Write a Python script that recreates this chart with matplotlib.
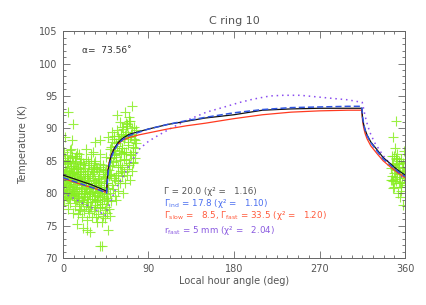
import numpy as np
import matplotlib
matplotlib.use('Agg')
import matplotlib.pyplot as plt
from matplotlib.ticker import MultipleLocator

# observed brightness temperatures (local hour angle in deg, T in K)
lha_obs = [
    0.5, 1.2, 2.0, 0.8, 3.1, 1.7, 4.2, 2.6, 3.6, 0.3, 4.8, 2.2, 1.0, 2.0, 4.4, 3.3, 0.6, 3.9, 1.5, 4.6,
    5.3, 7.1, 6.0, 8.4, 9.2, 5.8, 7.7, 9.6, 6.5, 8.0, 5.5, 9.0, 7.3, 5.6, 10.8, 9.0, 6.8, 8.8, 9.9, 6.2,
    10.4, 12.2, 14.1, 11.3, 13.4, 10.9, 12.8, 14.6, 11.7, 13.9, 10.2, 12.5, 14.3, 14.4, 11.0, 13.1, 12.0, 14.8,
    15.5, 17.3, 19.2, 16.0, 18.5, 15.2, 19.7, 16.9, 18.0, 15.8, 17.6, 19.0, 16.4, 17.5, 18.8, 15.9, 19.4,
    20.5, 22.1, 24.0, 21.3, 23.4, 20.2, 24.7, 21.8, 23.0, 20.8, 22.6, 24.3, 21.4, 23.8, 22.0, 24.9,
    25.6, 27.3, 29.1, 26.2, 28.4, 25.1, 29.6, 26.8, 28.0, 25.9, 27.6, 25.0, 28.0, 30.0, 29.0, 27.0, 26.0,
    30.5, 32.2, 34.1, 31.0, 33.3, 30.8, 34.6, 31.7, 33.0, 32.5, 34.0, 31.4, 33.7, 35.0, 32.8, 34.3,
    35.8, 37.2, 39.0, 36.3, 38.5, 35.4, 39.6, 36.9, 38.1, 37.6, 39.2, 39.0, 39.0, 39.3, 36.0, 38.8,
    40.7, 42.3, 44.1, 41.2, 43.5, 45.4, 40.3, 46.2, 42.8, 44.6, 41.8, 45.0, 47.7, 47.7, 40.7, 46.5, 43.0, 45.9,
    48.2, 50.1, 49.0, 51.5, 53.2, 48.8, 52.4, 54.0, 50.7, 53.7, 52.0, 54.6, 49.5, 51.0, 50.0,
    56.0, 58.2, 60.1, 55.6, 57.4, 59.6, 61.2, 56.8, 58.9, 60.6, 61.8, 60.0, 56.5, 61.5, 55.2, 57.9,
    63.0, 65.2, 67.1, 62.6, 64.4, 66.6, 68.2, 63.8, 65.9, 67.6, 69.2, 65.0, 69.5, 62.2, 68.8, 64.0,
    70.2, 72.5, 74.0, 71.0, 73.3, 75.5, 71.8, 74.6, 70.5, 72.3, 76.0, 77.0, 76.8,
    352.5, 347.5, 355.0, 349.0, 357.5, 351.0, 346.5, 354.0, 348.5, 358.5, 359.5, 345.8, 356.5, 350.0,
    353.5, 354.7, 358.0, 351.0, 347.7, 349.5, 347.0, 359.0, 352.0, 356.0, 344.8,
    # denser core
    0.2, 1.4, 2.4, 3.4, 4.4, 5.4, 6.4, 7.4, 8.4, 9.4, 0.9, 1.9, 2.9, 3.9, 4.9, 5.9, 6.9, 7.9, 8.9, 9.9,
    10.6, 11.6, 12.6, 13.6, 14.6, 15.6, 16.6, 17.6, 18.6, 19.6, 11.1, 12.1, 13.1, 14.1, 15.1, 16.1, 17.1, 18.1, 19.1,
    20.3, 21.3, 22.3, 23.3, 24.3, 25.3, 26.3, 27.3, 28.3, 29.3, 20.8, 21.8, 22.8, 23.8, 24.8, 25.8, 26.8, 27.8, 28.8,
    30.2, 31.2, 32.2, 33.2, 34.2, 35.2, 36.2, 37.2, 38.2, 39.2, 30.7, 31.7, 32.7, 33.7, 34.7, 35.7, 36.7, 37.7, 38.7,
    40.2, 41.2, 42.2, 43.2, 44.2, 45.2, 46.2, 40.8, 41.8, 42.8, 43.8, 44.8, 45.8,
    47.3, 48.3, 49.3, 50.3, 51.3, 52.3, 53.3, 54.3, 55.3, 56.3, 57.3, 58.3, 59.3, 47.8, 49.8, 51.8, 53.8, 55.8, 57.8, 59.8,
    60.4, 61.4, 62.4, 63.4, 64.4, 65.4, 66.4, 67.4, 68.4, 69.4, 70.4, 71.4, 72.4, 73.4, 74.4, 75.4,
    61.9, 63.9, 65.9, 67.9, 69.9, 71.9, 73.9,
    345.5, 346.5, 347.5, 348.5, 349.5, 350.5, 351.5, 352.5, 353.5, 354.5, 355.5, 356.5, 357.5, 358.5, 359.5,
    346.0, 348.0, 350.0, 352.0, 354.0, 356.0, 358.0, 360.0,
]
t_obs = [
    78.2, 79.0, 79.8, 80.5, 81.0, 81.6, 82.2, 82.9, 83.4, 84.1, 84.8, 85.5, 86.3, 88.7, 80.2, 81.3, 83.0, 79.4, 82.6, 84.5,
    77.6, 78.5, 79.3, 80.1, 80.7, 81.4, 82.0, 82.8, 83.5, 84.2, 85.0, 85.8, 86.6, 92.5, 90.7, 88.2, 81.1, 83.9, 79.8, 82.4,
    77.0, 78.0, 78.9, 79.7, 80.4, 81.0, 81.7, 82.3, 83.1, 83.8, 84.6, 85.4, 86.2, 75.3, 80.0, 82.7, 79.2, 84.0,
    76.8, 77.6, 78.4, 79.3, 80.0, 80.8, 81.5, 82.2, 82.9, 83.7, 84.5, 85.3, 86.0, 77.4, 81.2, 79.6, 83.2,
    76.3, 77.2, 78.1, 79.0, 79.8, 80.6, 81.3, 82.0, 82.7, 83.5, 84.3, 85.2, 74.6, 86.8, 80.1, 78.6,
    75.8, 76.9, 77.8, 78.7, 79.5, 80.3, 81.1, 81.9, 82.6, 83.4, 84.3, 74.3, 74.0, 86.1, 85.0, 79.9, 81.6,
    76.4, 77.3, 78.2, 79.1, 80.0, 80.8, 81.6, 82.4, 83.2, 84.1, 85.0, 86.4, 87.9, 76.4, 79.6, 81.2,
    75.5, 76.8, 77.7, 78.6, 79.4, 80.2, 81.0, 81.8, 82.6, 83.5, 84.5, 86.1, 88.2, 71.8, 79.0, 80.6,
    75.6, 76.5, 77.4, 78.3, 79.1, 79.9, 80.7, 81.5, 82.3, 83.3, 84.4, 85.6, 88.7, 74.3, 71.8, 77.0, 80.3, 78.8,
    77.5, 78.8, 80.0, 81.2, 82.4, 83.6, 84.8, 86.0, 87.2, 88.4, 89.4, 79.5, 83.0, 85.5, 76.5,
    79.0, 80.3, 81.6, 82.8, 84.0, 85.1, 86.2, 87.3, 88.3, 89.2, 90.2, 91.0, 92.0, 83.4, 86.7, 88.8,
    80.0, 81.5, 82.8, 84.0, 85.2, 86.3, 87.4, 88.4, 89.4, 90.4, 91.2, 92.5, 84.6, 87.0, 89.0, 86.0,
    82.0, 83.5, 84.8, 86.0, 87.2, 88.2, 89.2, 90.2, 91.2, 93.5, 85.4, 87.8, 89.8,
    80.0, 80.8, 81.5, 82.2, 82.9, 83.6, 84.3, 85.0, 85.7, 86.5, 81.2, 82.6, 84.0, 85.3,
    83.0, 79.4, 78.2, 91.2, 88.7, 86.9, 81.9, 83.3, 84.7, 80.4, 82.0,
    # denser core
    83.8, 80.9, 85.1, 79.6, 82.5, 84.7, 80.3, 83.3, 81.8, 85.6, 81.9, 83.6, 80.7, 85.9, 79.1, 82.9, 84.9, 81.0, 86.8, 83.1,
    83.3, 80.6, 85.0, 81.4, 79.0, 83.9, 80.4, 84.8, 81.7, 78.9, 82.2, 84.2, 79.9, 85.7, 81.9, 83.0, 78.8, 82.5, 80.9,
    81.7, 84.6, 79.4, 82.9, 80.8, 83.0, 77.6, 82.1, 80.2, 83.7, 78.7, 80.1, 83.9, 81.1, 82.3, 79.1, 84.9, 80.6, 77.9,
    82.9, 80.3, 84.6, 78.8, 82.0, 80.9, 83.8, 79.7, 81.3, 77.9, 79.1, 83.7, 81.5, 77.8, 83.9, 78.9, 82.2, 80.1, 84.0,
    81.9, 79.6, 83.6, 80.9, 82.5, 77.8, 79.3, 78.4, 82.9, 80.0, 76.2, 81.6, 83.8,
    80.8, 82.6, 84.2, 82.8, 87.9, 80.7, 85.9, 82.1, 87.7, 84.9, 89.8, 81.9, 86.5, 79.0, 86.8, 84.3, 88.8, 85.6, 83.1, 88.1,
    84.4, 88.8, 86.9, 89.9, 83.2, 88.9, 85.1, 90.6, 87.9, 84.3, 88.6, 85.9, 90.0, 86.4, 88.4, 87.0,
    82.6, 86.4, 90.9, 83.8, 91.7, 88.8, 84.6,
    83.9, 82.0, 84.5, 81.0, 83.7, 85.5, 82.5, 84.1, 81.6, 83.0, 85.2, 81.8, 83.9, 82.3, 84.8,
    85.8, 83.1, 81.9, 86.0, 84.5, 80.9, 84.6, 83.5,
]

# model curves
lha_mod = [0, 10, 20, 30, 40, 46, 46.6, 47.5, 49, 51, 54, 58, 63, 70, 80, 90, 110, 130, 150,
           180, 210, 240, 270, 300, 314.5, 315.3, 316.5, 318, 320, 324, 330, 337, 345, 352, 360]
t_gamma = [82.8, 82.3, 81.8, 81.3, 80.7, 80.3, 82.0, 83.5, 84.8, 85.9, 86.9, 87.8, 88.5, 89.1, 89.5,
           89.9, 90.6, 91.1, 91.6, 92.1, 92.8, 93.0, 93.1, 93.1, 93.1, 91.6, 90.6, 89.8, 89.0, 87.9,
           86.8, 85.5, 84.5, 83.6, 82.8]
t_ind = [82.4, 81.9, 81.4, 80.9, 80.4, 80.0, 81.5, 83.1, 84.4, 85.6, 86.6, 87.6, 88.3, 88.9, 89.4,
         89.9, 90.6, 91.2, 91.7, 92.4, 92.9, 93.2, 93.3, 93.4, 93.4, 91.8, 90.7, 89.7, 88.9, 87.8,
         86.6, 85.3, 84.3, 83.4, 82.6]
t_slowfast = [82.3, 81.8, 81.3, 80.9, 80.4, 80.1, 82.2, 83.8, 85.0, 86.0, 86.9, 87.6, 88.2, 88.6, 89.0,
              89.3, 89.9, 90.4, 90.8, 91.5, 92.1, 92.5, 92.7, 92.8, 92.8, 91.2, 90.1, 89.2, 88.4, 87.3,
              86.2, 85.0, 84.0, 83.2, 82.4]
lha_rfast = [0, 10, 20, 30, 39, 44, 47, 51, 55, 60, 65, 72, 81, 90, 100, 116, 133, 151, 170, 186,
             200, 218, 232, 250, 278, 300, 315, 316.5, 318, 320, 323, 328, 337, 345, 352, 360]
t_rfast = [80.1, 79.3, 78.5, 77.8, 77.1, 76.5, 77.6, 79.0, 80.5, 81.8, 83.0, 84.9, 86.9, 88.0, 88.9,
           90.2, 91.4, 92.5, 93.3, 94.0, 94.5, 95.0, 95.1, 95.1, 94.7, 94.4, 94.0, 93.0, 91.9, 90.8,
           89.4, 87.8, 85.8, 84.4, 83.2, 82.0]

labels = [
    'Γ = 20.0 (χ² =   1.16)',
    r'Γ$_{\rm ind}$ = 17.8 (χ² =   1.10)',
    r'Γ$_{\rm slow}$ =   8.5, Γ$_{\rm fast}$ = 33.5 (χ² =   1.20)',
    r'r$_{\rm fast}$ = 5 mm (χ² =   2.04)',
]
label_colors = ['#555555', '#4a6ef0', '#ff5a3c', '#8a5ae0']

grey = '#666666'
plt.rcParams['mathtext.fontset'] = 'dejavusans'
plt.rcParams['font.size'] = 7

fig = plt.figure(figsize=(4.27, 3.05), dpi=100)
ax = fig.add_axes([0.1475, 0.154, 0.801, 0.744])

ax.plot(lha_obs, t_obs, '+', color='#88ee22', ms=6.5, mew=0.8, alpha=0.85, zorder=1)

ax.plot(lha_rfast, t_rfast, color='#8a4ef0', lw=1.1, ls=(0, (1, 2.5)), zorder=2)
ax.plot(lha_mod, t_slowfast, color='#ff3a20', lw=0.9, zorder=3)
ax.plot(lha_mod, t_gamma, color='#111111', lw=0.9, zorder=4)
ax.plot(lha_mod, t_ind, color='#2f55e0', lw=1.1, dashes=(4, 2), zorder=5)

ax.set_xlim(0, 360)
ax.set_ylim(70, 105)
ax.xaxis.set_major_locator(MultipleLocator(90))
ax.xaxis.set_minor_locator(MultipleLocator(11.25))
ax.yaxis.set_major_locator(MultipleLocator(5))
ax.yaxis.set_minor_locator(MultipleLocator(1))
ax.tick_params(which='both', direction='in', top=True, right=True, color=grey,
               labelcolor='#555555', width=0.6)
ax.tick_params(which='major', length=5, labelsize=7, pad=4)
ax.tick_params(which='minor', length=2.5)
for s in ax.spines.values():
    s.set_color(grey)
    s.set_linewidth(0.7)

ax.set_title('C ring 10', color='#555555', fontsize=8, pad=5)
ax.set_xlabel('Local hour angle (deg)', color='#555555', fontsize=7, labelpad=2)
ax.set_ylabel('Temperature (K)', color='#555555', fontsize=7, labelpad=8)

ax.text(0.055, 0.915, 'α=  73.56˚', transform=ax.transAxes,
        color='#333333', fontsize=6.5, va='center')

ypos = [0.293, 0.241, 0.186, 0.123]
for lab, col, yy in zip(labels, label_colors, ypos):
    ax.text(0.295, yy, lab, transform=ax.transAxes, color=col, fontsize=6.3, va='center')

fig.savefig('out.png', dpi=100)
